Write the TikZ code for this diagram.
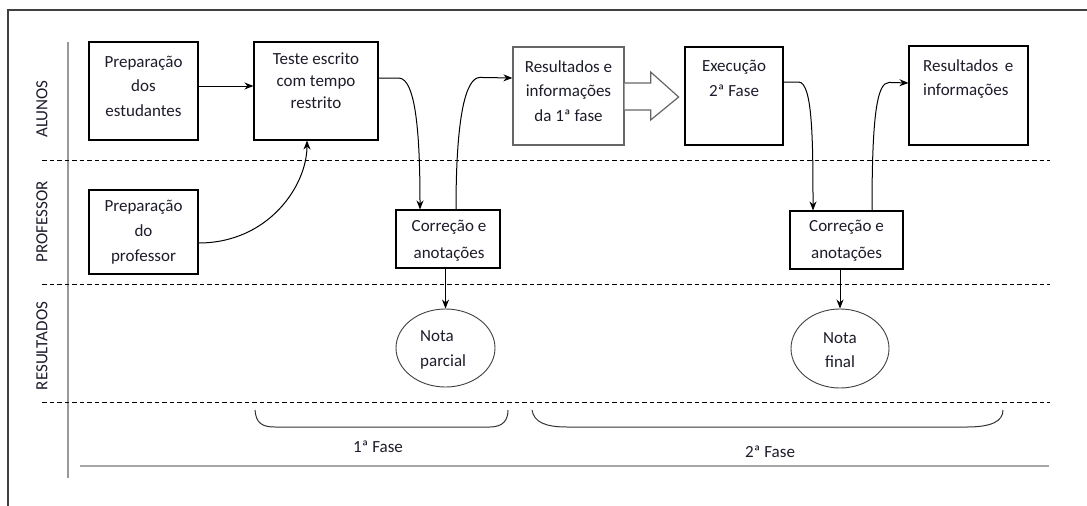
\documentclass[tikz,border=0pt]{standalone}
\usepackage{fontspec}
\setmainfont{Carlito}
\usetikzlibrary{arrows.meta,shapes.geometric}
\definecolor{ink}{HTML}{1C1C2A}
\begin{document}
\begin{tikzpicture}[x=1pt,y=-1pt,
  box/.style 2 args={draw=black,line width=1.1pt,inner sep=0pt,minimum width=#1,minimum height=#2},
  oval/.style 2 args={ellipse,draw=black!75,line width=0.9pt,inner sep=0pt,minimum width=#1,minimum height=#2},
  lbl/.style={align=center,inner sep=0pt,text=ink,font=\fontsize{17pt}{24.5pt}\selectfont},
  lane/.style={rotate=90,inner sep=0pt,text=ink,font=\fontsize{17pt}{20pt}\selectfont},
  arr/.style={line width=1pt,-{Stealth[length=9pt,width=7pt]}},
  flow/.style={line width=1pt},
  sep/.style={line width=1pt,dash pattern=on 4.5pt off 3pt},
  brace/.style={line width=1pt,black!80}]
\useasboundingbox (0,0) rectangle (1087,506);
% frame
\draw[line width=1.4pt,black!75] (8,506) -- (8,10) -- (1087,10);
\draw[line width=1.2pt,black!40] (68,42) -- (68,478);
\draw[line width=1.2pt,black!35] (80,466) -- (1049,466);
% lane separators
\draw[sep] (42,160) -- (1050,160);
\draw[sep] (42,284) -- (1050,284);
\draw[sep] (42,402) -- (1050,402);
% lane labels
\node[lane] (lA) at (42,109) {ALUNOS};
\node[lane] (lP) at (42,222) {PROFESSOR};
\node[lane] (lR) at (42,346) {RESULTADOS};
% boxes
\node[box={109pt}{98pt}] (pe) at (143.5,91) {};
\node[box={124pt}{98pt}] (teste) at (316,91) {};
\node[box={109pt}{84pt}] (pp) at (143.5,232) {};
\node[box={111pt}{98pt},line width=1.3pt,draw=black!60] (res1) at (568.5,96) {};
\node[box={98pt}{98pt}] (exec) at (734,96) {};
\node[box={119pt}{99pt}] (res2) at (968.5,95.5) {};
\node[box={104pt}{58pt}] (corr1) at (448,239) {};
\node[box={113pt}{58pt}] (corr2) at (846.5,240) {};
\node[oval={99pt}{78pt}] (np) at (445.5,348) {};
\node[oval={98pt}{79pt}] (nf) at (840,348.5) {};
% texts
\node[lbl] (pe-t) at (143.5,86) {Preparação\\dos\\estudantes};
\node[lbl,font=\fontsize{17pt}{22pt}\selectfont] (teste-t) at (316,81) {Teste escrito\\com tempo\\restrito};
\node[lbl,font=\fontsize{17pt}{25pt}\selectfont] (pp-t) at (143.5,232) {Preparação\\do\\professor};
\node[lbl] (res1-t) at (568.5,91) {Resultados e\\informações\\da 1ª fase};
\node[lbl,font=\fontsize{17pt}{25pt}\selectfont] (exec-t) at (734,78.5) {Execução\\2ª Fase};
\node[lbl,align=left,anchor=west,font=\fontsize{17pt}{24pt}\selectfont] (res2-t) at (923,79) {Resultados \,e\\informações};
\node[lbl,font=\fontsize{17pt}{27pt}\selectfont] (corr1-t) at (449,241) {Correção e\\anotações};
\node[lbl,font=\fontsize{17pt}{27pt}\selectfont] (corr2-t) at (846.5,241) {Correção e\\anotações};
\node[lbl,align=left,anchor=west,font=\fontsize{17pt}{25pt}\selectfont] (np-t) at (420,349.5) {Nota\\parcial};
\node[lbl,font=\fontsize{17pt}{24pt}\selectfont] (nf-t) at (840,350) {Nota\\final};
% connectors
\draw[arr] ([yshift=5pt]pe.east) -- ([yshift=5pt]teste.west);
\draw[arr] ([yshift=-11pt]pp.east) .. controls +(70,0) and +(0,45) .. ([xshift=-9pt]teste.south);
\draw[arr] ([yshift=13pt]teste.east) -- ++(20,0) .. controls +(18,0) and +(0,-70) .. ([xshift=-28pt]corr1.north);
\draw[arr] ([xshift=8pt]corr1.north) .. controls +(0,-95) and +(-14,0) .. ++(24,-132) -- ([yshift=18pt]res1.west);
\draw[arr] ([yshift=14pt]exec.east) -- ++(15,0) .. controls +(14,0) and +(0,-70) .. ([xshift=-33.5pt]corr2.north);
\draw[arr] ([xshift=25.5pt]corr2.north) .. controls +(0,-95) and +(-12,0) .. ++(17,-128) -- ([yshift=12.5pt]res2.west);
\draw[arr] (np.north |- corr1.south) -- (np.north);
\draw[arr] (nf.north |- corr2.south) -- (nf.north);
% block arrow
\draw[line width=1.2pt,black!60,fill=white,shift={(res1.east)}]
  (0,-13) -- (26,-13) -- (26,-24) -- (54,1) -- (26,24) -- (26,14) -- (0,14);
% braces
\draw[brace] (255,410) .. controls (256,423) and (262,427) .. (275,427) -- (490,427) .. controls (503,427) and (508,420) .. (508,410);
\draw[brace] (532,410) .. controls (534,422) and (545,427) .. (567,427) -- (967,427) .. controls (992,427) and (1003,421) .. (1003,410);
\node[lbl] (f1) at (378,447) {1ª Fase};
\node[lbl] (f2) at (770,452) {2ª Fase};
\end{tikzpicture}
\end{document}
